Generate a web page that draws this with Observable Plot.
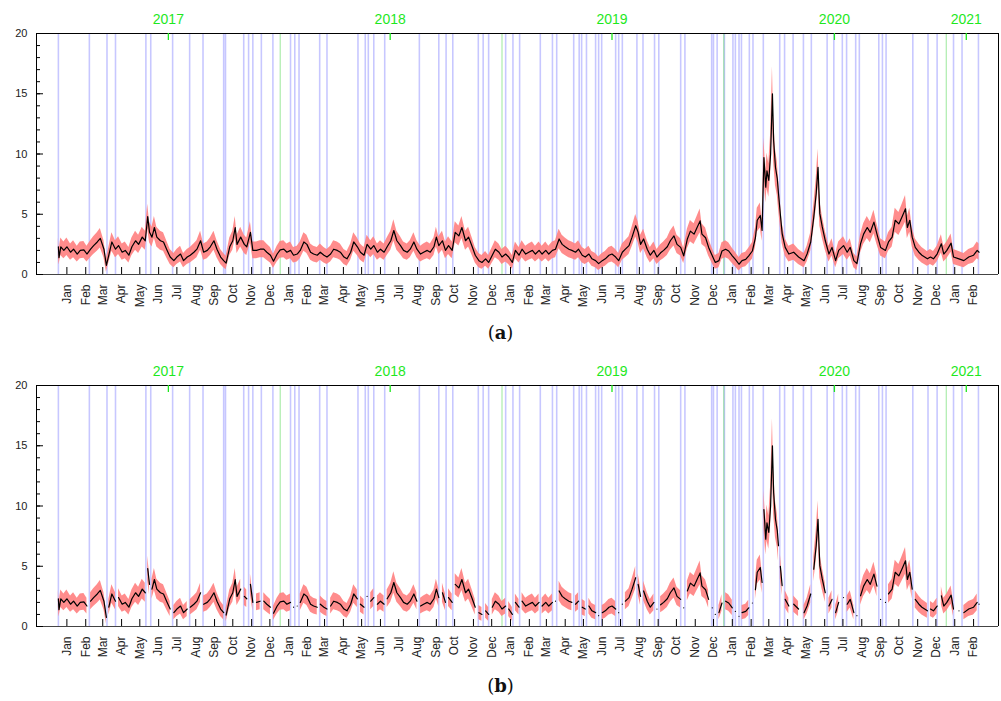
<!DOCTYPE html>
<html><head><meta charset="utf-8">
<script src="https://cdn.jsdelivr.net/npm/d3@7"></script>
<script src="https://cdn.jsdelivr.net/npm/@observablehq/plot@0.6"></script>
<style>
body{margin:0;background:#fff;width:1001px;height:701px;overflow:hidden;font-family:"Liberation Sans",Arial,sans-serif}
.panel{position:absolute;left:0;width:1001px}
.cap{position:absolute;left:0;width:1001px;text-align:center;font-family:"DejaVu Serif",serif;font-size:18px;line-height:22px;color:#111}
</style></head><body>
<div id="pa" class="panel" style="top:0"></div>
<div class="cap" style="top:322px">(<b>a</b>)</div>
<div id="pb" class="panel" style="top:352px"></div>
<div class="cap" style="top:675px">(<b>b</b>)</div>
<script>
// ---- data (days since 2017-01-01, value) ----
const seriesA = [[0,2.3],[1,1.4],[4,2.3],[9,2.0],[14,2.3],[20,1.85],[25,2.1],[31,1.7],[36,2.0],[42,2.05],[47,1.7],[53,2.1],[58,2.4],[64,2.7],[69,3.0],[75,2.1],[79,0.75],[83,1.6],[88,2.7],[94,2.1],[99,2.4],[105,1.85],[110,2.0],[116,1.6],[121,2.3],[127,2.8],[132,2.5],[138,3.1],[143,2.8],[147,4.8],[150,3.5],[154,3.1],[158,3.9],[162,3.1],[168,2.8],[173,2.7],[179,2.0],[184,1.45],[190,1.15],[195,1.45],[201,1.7],[206,1.15],[212,1.45],[217,1.6],[223,1.85],[228,2.1],[234,2.8],[239,1.85],[245,2.0],[250,2.3],[256,2.8],[261,2.1],[267,1.45],[272,1.15],[276,0.95],[282,2.3],[287,2.8],[291,3.9],[294,2.5],[300,3.1],[306,2.5],[310,2.3],[316,3.5],[320,2.0],[326,2.0],[332,2.1],[338,2.1],[343,1.85],[349,1.6],[354,1.1],[360,1.7],[365,2.05],[371,2.1],[376,1.85],[382,2.0],[387,1.6],[393,1.7],[398,2.0],[404,2.7],[409,2.5],[415,1.85],[420,1.7],[426,1.6],[431,1.85],[437,1.6],[442,1.45],[448,1.7],[453,2.1],[459,2.0],[464,1.85],[470,1.45],[475,1.3],[481,1.85],[486,2.7],[492,2.3],
[497,1.85],[503,1.6],[508,2.5],[514,2.1],[519,2.4],[525,1.85],[530,2.1],[536,1.85],[541,2.3],[547,2.8],[552,3.65],[557,2.8],[563,2.4],[568,2.0],[574,1.85],[579,2.1],[585,2.7],[590,2.1],[596,1.7],[601,1.85],[607,2.0],[612,1.85],[618,2.3],[622,3.1],[626,2.4],[632,2.8],[637,2.0],[642,2.4],[648,2.0],[653,3.5],[659,3.2],[664,3.9],[670,2.8],[675,3.1],[681,2.3],[686,1.6],[692,1.15],[697,1.0],[703,1.3],[708,1.0],[714,1.6],[719,2.1],[725,1.85],[730,1.45],[736,1.7],[741,1.45],[747,1.0],[752,2.0],[758,1.6],[763,2.1],[769,1.7],[774,1.85],[780,2.0],[785,1.7],[791,2.0],[796,1.7],[802,2.0],[807,1.7],[813,2.0],[818,2.1],[824,2.95],[829,2.5],[834,2.3],[840,2.1],[845,2.0],[851,1.85],[856,2.1],[862,1.6],[867,1.45],[873,1.7],[878,1.3],[884,1.15],[889,0.9],[895,1.15],[900,1.3],[906,1.6],[911,1.7],[917,1.45],[922,1.15],[928,1.85],[933,2.1],[939,2.4],[944,3.1],[950,4.05],[954,3.5],[958,2.5],[963,2.95],[969,2.1],[974,1.6],[980,2.0],[985,1.45],
[991,1.8],[996,2.0],[1002,2.3],[1007,2.8],[1013,3.2],[1018,2.5],[1024,2.25],[1029,1.55],[1035,2.95],[1040,3.6],[1046,3.35],[1051,3.9],[1056,4.45],[1059,3.35],[1065,3.05],[1070,2.25],[1076,1.55],[1081,1.0],[1087,1.15],[1092,1.95],[1098,2.1],[1103,1.95],[1109,1.55],[1114,1.25],[1120,0.85],[1125,1.15],[1131,1.25],[1136,1.55],[1142,1.95],[1147,3.05],
[1150,4.5],[1155,4.9],[1158,3.65],[1161,9.7],[1164,7.25],[1166,8.6],[1169,7.8],[1172,10.0],[1175,15.0],[1177,11.1],[1180,8.9],[1183,7.95],[1185,6.7],[1188,5.0],[1191,3.4],[1196,2.25],[1202,1.7],[1210,1.85],[1218,1.45],[1227,1.15],[1232,1.7],[1238,2.7],[1243,4.75],[1247,6.7],[1250,8.9],[1253,5.05],[1257,3.95],[1262,2.8],[1268,1.7],[1273,2.25],[1279,1.15],[1284,2.0],[1292,2.4],[1298,1.85],[1303,2.25],[1309,1.15],[1314,0.9],[1320,2.55],[1325,3.35],[1331,3.9],[1336,3.5],[1342,4.35],[1347,3.35],[1353,2.25],[1361,2.0],[1366,2.7],[1372,3.1],[1377,4.5],[1383,4.2],[1388,4.75],[1394,5.45],[1397,3.9],[1401,4.5],[1405,3.1],[1410,2.25],[1416,1.85],[1421,1.6],[1430,1.3],[1435,1.45],[1440,1.3],[1446,1.7],[1453,2.55],[1457,1.7],[1462,2.0],[1469,2.6],[1473,1.45],[1482,1.3],[1490,1.15],[1498,1.45],[1506,1.6],[1512,2.0],[1515,1.85]];

// event markers (days since 2017-01-01)
const eventDays = [0,51,80,94,144,152,188,216,238,272,275,305,313,320,334,353,382,389,396,430,442,493,505,510,519,537,594,626,638,649,691,699,708,736,748,759,793,813,820,848,857,861,869,884,889,894,917,922,928,952,962,981,988,1024,1031,1075,1078,1084,1096,1110,1114,1120,1124,1137,1143,1160,1187,1195,1209,1226,1239,1265,1276,1290,1297,1312,1318,1350,1356,1362,1406,1431,1446,1473,1487,1514];

const yearLabels = ["2017","2018","2019","2020","2021"];
const yearLabelDates = ["2017-07-01","2018-07-01","2019-07-01","2020-07-01","2021-02-03"];
const yearStarts = ["2018-01-01","2019-01-01","2020-01-01","2021-01-01"];
const monthNames = ["Jan","Feb","Mar","Apr","May","Jun","Jul","Aug","Sep","Oct","Nov","Dec"];
const yMajor = [0,5,10,15,20];
const yMinor = d3.range(0,21,1);

const start = Date.UTC(2017,0,1);
const dayToDate = d => new Date(start + d*864e5);
const xDomain = [new Date(Date.UTC(2016,10,26)), new Date(Date.UTC(2021,2,28))];
const monthTicks = d3.utcMonth.range(new Date(Date.UTC(2017,0,1)), new Date(Date.UTC(2021,2,1))).map(d => d3.utcDay.offset(d,14));

const GREEN = "#1ee81e";

function panel(withGaps) {
  let rows = seriesA.map(([d,v]) => {
    const w = 0.45 + 0.12*v;
    return {day: d, v, lo: Math.max(0, v-w), hi: v+w};
  });
  if (withGaps) {
    // panel (b): observations interrupted at the marked event days
    const breaks = eventDays.filter(e => e > 1 && e < 1515).map(e => ({day: e + 0.01, v: NaN, lo: NaN, hi: NaN}));
    rows = rows.concat(breaks).sort((a,b) => a.day - b.day);
  }
  rows.forEach(r => r.date = dayToDate(r.day));
  return Plot.plot({
    width: 1001, height: 322,
    marginLeft: 36, marginRight: 3, marginTop: 33, marginBottom: 48,
    x: {type: "utc", domain: xDomain, axis: null},
    y: {domain: [0,20], axis: null},
    style: {fontFamily: "Liberation Sans, Arial, sans-serif", background: "white", overflow: "visible"},
    marks: [
      Plot.ruleX(eventDays, {x: dayToDate, stroke: "#0000ff", strokeOpacity: 0.22, strokeWidth: 1.6}),
      Plot.ruleX(yearStarts, {x: d => new Date(d), stroke: "#22cc22", strokeOpacity: 0.45}),
      Plot.areaY(rows, {x: "date", y1: "lo", y2: "hi", fill: "#ff7f7f", fillOpacity: 0.9}),
      Plot.lineY(rows, {x: "date", y: "v", stroke: "black", strokeWidth: 1.2}),
      Plot.ruleY([20], {stroke: "black"}),
      Plot.ruleX([xDomain[1]], {stroke: "black"}),
      Plot.ruleX([xDomain[0]], {stroke: "black"}),
      Plot.ruleY([0], {stroke: "#444"}),
      Plot.axisY({ticks: yMinor, tickSize: -4, tickFormat: () => ""}),
      Plot.axisY({ticks: yMajor, tickSize: -7, tickFormat: () => ""}),
      Plot.text(yMajor, {x: xDomain[0], y: d => d, text: d => String(d), dx: -9, textAnchor: "end", fontSize: 11, fill: "#222"}),
      Plot.axisX({ticks: monthTicks, tickSize: -7, tickFormat: () => "", anchor: "bottom"}),
      Plot.text(monthTicks, {x: d => d, y: 0, text: d => monthNames[d.getUTCMonth()], rotate: -90, textAnchor: "end", lineAnchor: "middle", dy: 10, fontSize: 12, fill: "#222"}),
      Plot.ruleX(yearLabelDates, {x: d => new Date(d), y1: 20, y2: 19.42, stroke: GREEN, strokeWidth: 1.3}),
      Plot.text(yearLabels, {x: (d,i) => new Date(yearLabelDates[i]), y: 20, dy: -10, text: d => d, fill: GREEN, fontSize: 14, lineAnchor: "bottom"})
    ]
  });
}
document.getElementById("pa").append(panel(false));
document.getElementById("pb").append(panel(true));
</script></body></html>
